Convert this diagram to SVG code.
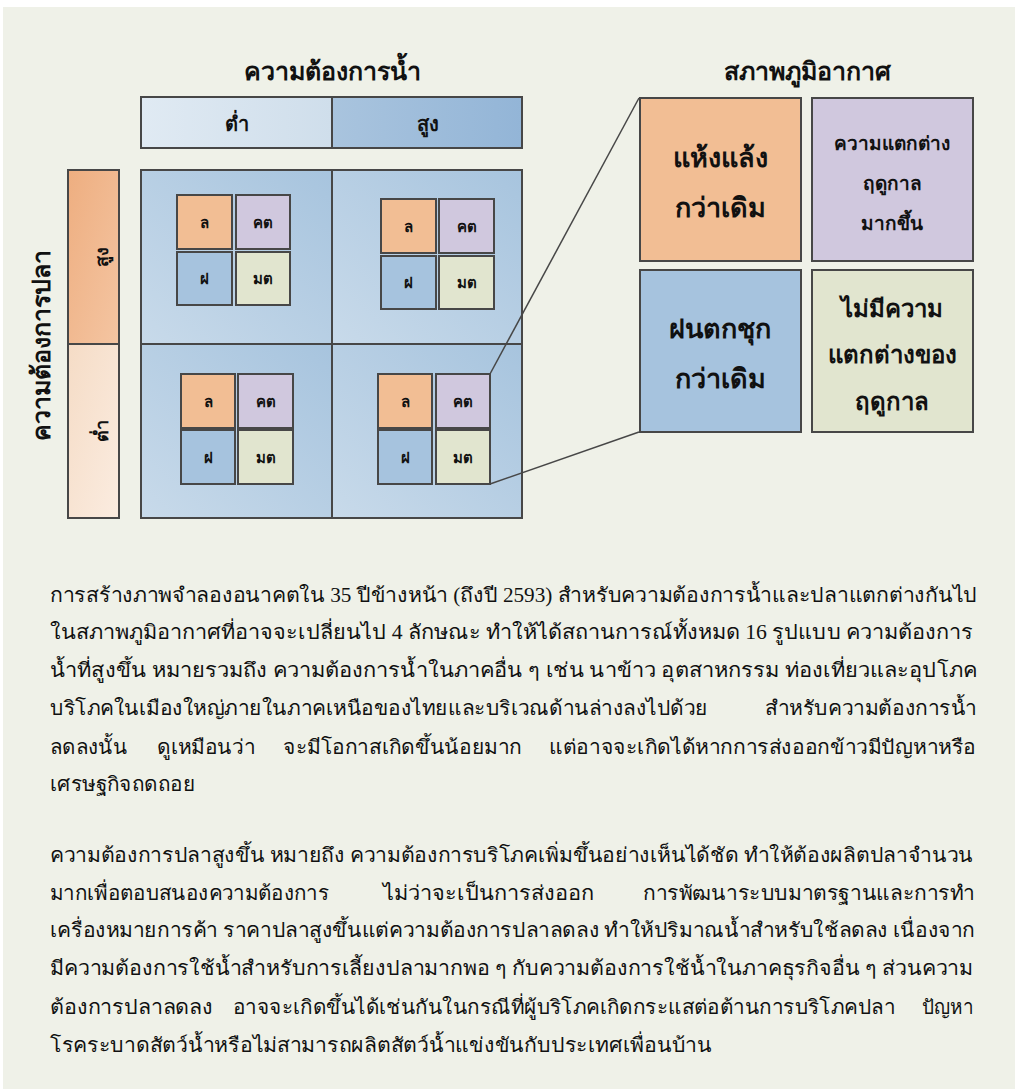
<svg xmlns="http://www.w3.org/2000/svg" width="1015" height="1089" viewBox="0 0 1015 1089">
<defs>
<linearGradient id="gLow" x1="0" y1="0" x2="1" y2="0"><stop offset="0" stop-color="#e0eaf3"/><stop offset="1" stop-color="#cfdeeb"/></linearGradient>
<linearGradient id="gHigh" x1="0" y1="0" x2="1" y2="0"><stop offset="0" stop-color="#a9c4de"/><stop offset="1" stop-color="#93b5d7"/></linearGradient>
<linearGradient id="gCell" x1="0" y1="1" x2="1" y2="0"><stop offset="0" stop-color="#c8daea"/><stop offset="1" stop-color="#a7c4de"/></linearGradient>
<linearGradient id="gFishHigh" x1="0" y1="0" x2="1" y2="1"><stop offset="0" stop-color="#eeae80"/><stop offset="1" stop-color="#f4c5a2"/></linearGradient>
<linearGradient id="gFishLow" x1="0" y1="0" x2="1" y2="1"><stop offset="0" stop-color="#f5dcc6"/><stop offset="1" stop-color="#fbece0"/></linearGradient>
<style>
.bx{stroke:#474747;stroke-width:2}
.o{fill:#f2be94}.p{fill:#d0c8de}.b{fill:#a6c3de}.g{fill:#e1e5cf}
.lbl{font-family:"Noto Sans","DejaVu Sans",sans-serif;font-weight:bold;fill:#111;text-anchor:middle}
.s{font-size:15px}
.body{font-family:"Liberation Serif",serif;font-size:20px;fill:#111}
.con{stroke:#474747;stroke-width:1.5;fill:none}
</style>
</defs>
<rect x="3" y="7" width="1012" height="1082" fill="#eff1e8"/>

<g id="water-title"><text class="lbl" x="332" y="80" font-size="25">ความต้องการน้ำ</text></g>
<g id="water-low"><rect class="bx" x="141" y="97" width="191" height="51" fill="url(#gLow)"/><text class="lbl" x="237" y="131" font-size="20">ต่ำ</text></g>
<g id="water-high"><rect class="bx" x="332" y="97" width="190" height="51" fill="url(#gHigh)"/><text class="lbl" x="428" y="131" font-size="20">สูง</text></g>

<g id="fish-title"><text class="lbl" transform="translate(50,345) rotate(-90)" x="0" y="0" font-size="25">ความต้องการปลา</text></g>
<g id="fish-high"><rect class="bx" x="68" y="170" width="51" height="174" fill="url(#gFishHigh)"/><text class="lbl" transform="translate(108,257) rotate(-90)" font-size="18">สูง</text></g>
<g id="fish-low"><rect class="bx" x="68" y="344" width="51" height="174" fill="url(#gFishLow)"/><text class="lbl" transform="translate(108,431) rotate(-90)" font-size="18">ต่ำ</text></g>

<g id="cell-tl">
<rect class="bx" x="141" y="170" width="191" height="174" fill="url(#gCell)"/>
<rect class="bx o" x="177" y="195" width="55" height="54"/><text class="lbl s" x="204.5" y="228">ล</text>
<rect class="bx p" x="236" y="195" width="54" height="54"/><text class="lbl s" x="263" y="228">คต</text>
<rect class="bx b" x="177" y="252" width="55" height="53"/><text class="lbl s" x="204.5" y="284">ฝ</text>
<rect class="bx g" x="236" y="252" width="54" height="53"/><text class="lbl s" x="263" y="284">มต</text>
</g>
<g id="cell-tr">
<rect class="bx" x="332" y="170" width="190" height="174" fill="url(#gCell)"/>
<rect class="bx o" x="381" y="199" width="55" height="54"/><text class="lbl s" x="408.5" y="232">ล</text>
<rect class="bx p" x="439" y="199" width="55" height="54"/><text class="lbl s" x="466.5" y="232">คต</text>
<rect class="bx b" x="381" y="256" width="55" height="53"/><text class="lbl s" x="408.5" y="288">ฝ</text>
<rect class="bx g" x="439" y="256" width="55" height="53"/><text class="lbl s" x="466.5" y="288">มต</text>
</g>
<g id="cell-bl">
<rect class="bx" x="141" y="344" width="191" height="174" fill="url(#gCell)"/>
<rect class="bx o" x="181" y="374" width="54" height="54"/><text class="lbl s" x="208" y="407">ล</text>
<rect class="bx p" x="238" y="374" width="55" height="54"/><text class="lbl s" x="265.5" y="407">คต</text>
<rect class="bx b" x="181" y="430" width="54" height="54"/><text class="lbl s" x="208" y="463">ฝ</text>
<rect class="bx g" x="238" y="430" width="55" height="54"/><text class="lbl s" x="265.5" y="463">มต</text>
</g>
<g id="cell-br">
<rect class="bx" x="332" y="344" width="190" height="174" fill="url(#gCell)"/>
<rect class="bx o" x="378" y="374" width="54" height="54"/><text class="lbl s" x="405" y="407">ล</text>
<rect class="bx p" x="436" y="374" width="54" height="54"/><text class="lbl s" x="463" y="407">คต</text>
<rect class="bx b" x="378" y="430" width="54" height="54"/><text class="lbl s" x="405" y="463">ฝ</text>
<rect class="bx g" x="436" y="430" width="54" height="54"/><text class="lbl s" x="463" y="463">มต</text>
</g>

<g id="connectors">
<line class="con" x1="490" y1="374" x2="639" y2="98"/>
<line class="con" x1="490" y1="484" x2="639" y2="432"/>
</g>

<g id="climate-title"><text class="lbl" x="807" y="80" font-size="25">สภาพภูมิอากาศ</text></g>
<g id="climate-dry"><rect class="bx o" x="640" y="98" width="161" height="163"/>
<text class="lbl" x="720" y="167" font-size="27">แห้งแล้ง</text><text class="lbl" x="720" y="217" font-size="27">กว่าเดิม</text></g>
<g id="climate-seasonal"><rect class="bx p" x="812" y="98" width="161" height="163"/>
<text class="lbl" x="892" y="150" font-size="19">ความแตกต่าง</text><text class="lbl" x="892" y="190" font-size="19">ฤดูกาล</text><text class="lbl" x="892" y="230" font-size="19">มากขึ้น</text></g>
<g id="climate-wet"><rect class="bx b" x="640" y="270" width="161" height="162"/>
<text class="lbl" x="720" y="338" font-size="27">ฝนตกชุก</text><text class="lbl" x="720" y="388" font-size="27">กว่าเดิม</text></g>
<g id="climate-noseason"><rect class="bx g" x="812" y="270" width="161" height="162"/>
<text class="lbl" x="892" y="317" font-size="24">ไม่มีความ</text><text class="lbl" x="892" y="363" font-size="24">แตกต่างของ</text><text class="lbl" x="892" y="410" font-size="24">ฤดูกาล</text></g>

<g id="paragraph-1" class="body">
<text x="50" y="602" textLength="927" lengthAdjust="spacingAndGlyphs">การสร้างภาพจำลองอนาคตใน 35 ปีข้างหน้า (ถึงปี 2593) สำหรับความต้องการน้ำและปลาแตกต่างกันไป</text>
<text x="50" y="639" textLength="923" lengthAdjust="spacingAndGlyphs">ในสภาพภูมิอากาศที่อาจจะเปลี่ยนไป 4 ลักษณะ ทำให้ได้สถานการณ์ทั้งหมด 16 รูปแบบ ความต้องการ</text>
<text x="50" y="677" textLength="927" lengthAdjust="spacingAndGlyphs">น้ำที่สูงขึ้น หมายรวมถึง ความต้องการน้ำในภาคอื่น ๆ เช่น นาข้าว อุตสาหกรรม ท่องเที่ยวและอุปโภค</text>
<text x="50" y="715" textLength="658" lengthAdjust="spacingAndGlyphs">บริโภคในเมืองใหญ่ภายในภาคเหนือของไทยและบริเวณด้านล่างลงไปด้วย</text>
<text x="765" y="715" textLength="212" lengthAdjust="spacingAndGlyphs">สำหรับความต้องการน้ำ</text>
<text x="50" y="754" textLength="77" lengthAdjust="spacingAndGlyphs">ลดลงนั้น</text>
<text x="157" y="754" textLength="98" lengthAdjust="spacingAndGlyphs">ดูเหมือนว่า</text>
<text x="283" y="754" textLength="239" lengthAdjust="spacingAndGlyphs">จะมีโอกาสเกิดขึ้นน้อยมาก</text>
<text x="549" y="754" textLength="427" lengthAdjust="spacingAndGlyphs">แต่อาจจะเกิดได้หากการส่งออกข้าวมีปัญหาหรือ</text>
<text x="50" y="791" textLength="145" lengthAdjust="spacingAndGlyphs">เศรษฐกิจถดถอย</text>
</g>
<g id="paragraph-2" class="body">
<text x="50" y="862" textLength="923" lengthAdjust="spacingAndGlyphs">ความต้องการปลาสูงขึ้น หมายถึง ความต้องการบริโภคเพิ่มขึ้นอย่างเห็นได้ชัด ทำให้ต้องผลิตปลาจำนวน</text>
<text x="50" y="900" textLength="279" lengthAdjust="spacingAndGlyphs">มากเพื่อตอบสนองความต้องการ</text>
<text x="383" y="900" textLength="211" lengthAdjust="spacingAndGlyphs">ไม่ว่าจะเป็นการส่งออก</text>
<text x="643" y="900" textLength="332" lengthAdjust="spacingAndGlyphs">การพัฒนาระบบมาตรฐานและการทำ</text>
<text x="50" y="937" textLength="925" lengthAdjust="spacingAndGlyphs">เครื่องหมายการค้า ราคาปลาสูงขึ้นแต่ความต้องการปลาลดลง ทำให้ปริมาณน้ำสำหรับใช้ลดลง เนื่องจาก</text>
<text x="50" y="975" textLength="923" lengthAdjust="spacingAndGlyphs">มีความต้องการใช้น้ำสำหรับการเลี้ยงปลามากพอ ๆ กับความต้องการใช้น้ำในภาคธุรกิจอื่น ๆ ส่วนความ</text>
<text x="50" y="1014" textLength="163" lengthAdjust="spacingAndGlyphs">ต้องการปลาลดลง</text>
<text x="233" y="1014" textLength="662" lengthAdjust="spacingAndGlyphs">อาจจะเกิดขึ้นได้เช่นกันในกรณีที่ผู้บริโภคเกิดกระแสต่อต้านการบริโภคปลา</text>
<text x="922" y="1014" textLength="51" lengthAdjust="spacingAndGlyphs">ปัญหา</text>
<text x="50" y="1052" textLength="662" lengthAdjust="spacingAndGlyphs">โรคระบาดสัตว์น้ำหรือไม่สามารถผลิตสัตว์น้ำแข่งขันกับประเทศเพื่อนบ้าน</text>
</g>
</svg>
